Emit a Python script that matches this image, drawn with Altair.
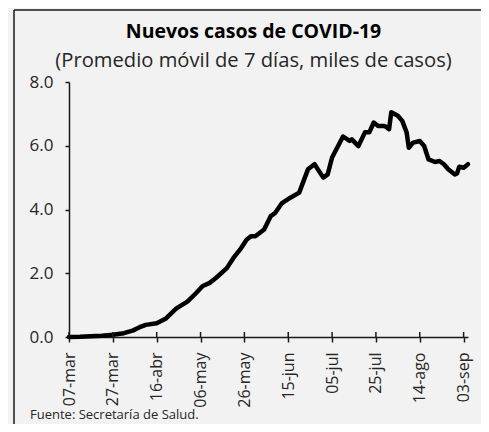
import json
import altair as alt
import pandas as pd

# ---- data (thousands of cases, 7-day avg) ----
dates = [
    "2020/03/07", "2020/03/12", "2020/03/17", "2020/03/22", "2020/03/27",
    "2020/04/01", "2020/04/05", "2020/04/08", "2020/04/11", "2020/04/16",
    "2020/04/20", "2020/04/25", "2020/04/30", "2020/05/04", "2020/05/07",
    "2020/05/10", "2020/05/13", "2020/05/18", "2020/05/21", "2020/05/24",
    "2020/05/27", "2020/05/29", "2020/05/31", "2020/06/04", "2020/06/07",
    "2020/06/09", "2020/06/12", "2020/06/16", "2020/06/20", "2020/06/24",
    "2020/06/27", "2020/07/01", "2020/07/03", "2020/07/05", "2020/07/10",
    "2020/07/13", "2020/07/14", "2020/07/17", "2020/07/20", "2020/07/22",
    "2020/07/24", "2020/07/26", "2020/07/29", "2020/07/31", "2020/08/01",
    "2020/08/04", "2020/08/06", "2020/08/08", "2020/08/09", "2020/08/11",
    "2020/08/14", "2020/08/16", "2020/08/18", "2020/08/21", "2020/08/23",
    "2020/08/25", "2020/08/27", "2020/08/30", "2020/08/31", "2020/09/01",
    "2020/09/03", "2020/09/05",
]
values = [
    0.00, 0.005, 0.02, 0.04, 0.07,
    0.12, 0.20, 0.30, 0.38, 0.43,
    0.57, 0.90, 1.11, 1.38, 1.60,
    1.69, 1.85, 2.16, 2.48, 2.74,
    3.05, 3.16, 3.16, 3.37, 3.79,
    3.89, 4.19, 4.37, 4.53, 5.26,
    5.42, 5.00, 5.10, 5.63, 6.29,
    6.15, 6.20, 5.99, 6.42, 6.42,
    6.73, 6.62, 6.62, 6.52, 7.05,
    6.94, 6.78, 6.42, 5.94, 6.10,
    6.15, 5.99, 5.57, 5.49, 5.52,
    5.42, 5.26, 5.10, 5.13, 5.34,
    5.31, 5.42,
]
tick_dates = [
    "2020/03/07", "2020/03/27", "2020/04/16", "2020/05/06", "2020/05/26",
    "2020/06/15", "2020/07/05", "2020/07/25", "2020/08/14", "2020/09/03",
]
tick_labels = [
    "07-mar", "27-mar", "16-abr", "06-may", "26-may",
    "15-jun", "05-jul", "25-jul", "14-ago", "03-sep",
]
y_ticks = [0, 2, 4, 6, 8]
title_text = "Nuevos casos de COVID-19"
subtitle_text = "(Promedio móvil de 7 días, miles de casos)"
source_text = "Fuente: Secretaría de Salud."

FONT = "Open Sans"
INK = "#1a1a1a"
TXT = "#262626"
BG = "#f2f2f2"
W, H = 399, 255


def to_dt(s):
    y, m, d = (int(p) for p in s.split("/"))
    return alt.DateTime(year=y, month=m, date=d)


df = pd.DataFrame({"fecha": dates, "casos": values})
ticks_df = pd.DataFrame({"fecha": tick_dates, "etiqueta": tick_labels})

x_scale = alt.Scale(domain=[to_dt("2020/03/07"), to_dt("2020/09/05")])
label_expr = (
    json.dumps(tick_labels)
    + "[round((datum.value - datetime(2020, 2, 7)) / 1728000000)]"
)
x_axis = alt.Axis(
    values=[to_dt(d) for d in tick_dates],
    labelExpr=label_expr,
    labelAngle=-90,
    labelFontSize=16,
    labelPadding=10,
    tickSize=5,
)

line = alt.Chart(df).mark_line(
    color="black", strokeWidth=4.5, strokeJoin="round", strokeCap="round"
).encode(
    x=alt.X("fecha:T", scale=x_scale, title=None, axis=x_axis),
    y=alt.Y(
        "casos:Q",
        scale=alt.Scale(domain=[0, 8]),
        title=None,
        axis=alt.Axis(
            values=y_ticks,
            format=".1f",
            labelFontSize=17,
            labelPadding=12,
            tickSize=4,
        ),
    ),
)

# upper half of the x-axis ticks (ticks cross the axis line)
up_ticks = alt.Chart(ticks_df).mark_rule(color=INK, strokeWidth=1.5).encode(
    x=alt.X("fecha:T", scale=x_scale, title=None, axis=x_axis),
    y=alt.value(H - 5),
    y2=alt.value(H),
)

one = pd.DataFrame({"t": [""]})


def text_layer(txt, x, y, size, weight="normal", align="center", color=TXT):
    return alt.Chart(pd.DataFrame({"t": [txt]})).mark_text(
        font=FONT, fontSize=size, fontWeight=weight, align=align,
        baseline="alphabetic", color=color,
    ).encode(text="t:N", x=alt.value(x), y=alt.value(y))


title = text_layer(title_text, 184.5, -44, 19.5, weight="bold", color="black")
subtitle = text_layer(subtitle_text, 184.5, -15.5, 20.2)
source = text_layer(source_text, -39, 337, 13, align="left")

frame_left = alt.Chart(one).mark_rule(color=INK, strokeWidth=1.5).encode(
    x=alt.value(-55), y=alt.value(-72), y2=alt.value(H + 87)
)
frame_top = alt.Chart(one).mark_rule(color=INK, strokeWidth=1.5).encode(
    x=alt.value(-55), x2=alt.value(W + 13), y=alt.value(-72)
)

chart = alt.layer(
    frame_left, frame_top, line, up_ticks, title, subtitle, source
).properties(
    width=W,
    height=H,
    padding={"left": 61, "top": 74, "right": 13, "bottom": 87},
    autosize=alt.AutoSizeParams(type="none"),
    background=BG,
).configure_view(
    stroke=None
).configure_axis(
    grid=False,
    domainColor=INK,
    domainWidth=1.5,
    tickColor=INK,
    tickWidth=1.5,
    labelFont=FONT,
    labelColor=TXT,
)

chart.save("out.html", embed_options={"renderer": "svg", "actions": False})
